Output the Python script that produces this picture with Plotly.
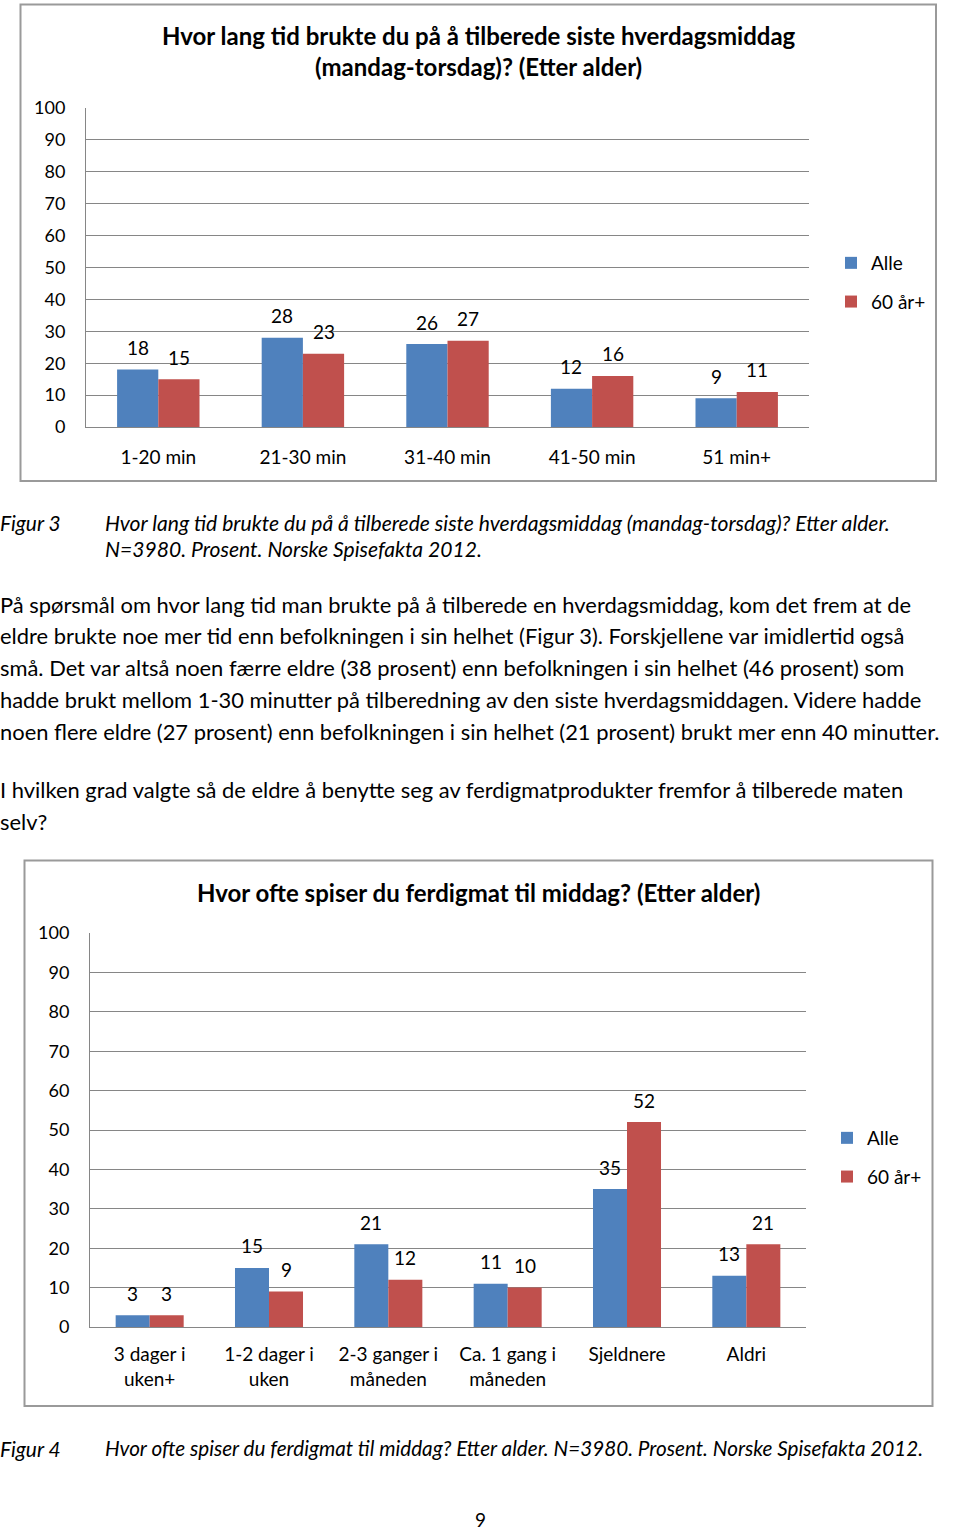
import plotly.graph_objects as go

W, H = 960, 1534
FONT = "Lato"

# ---------------- data ----------------
series_names = ["Alle", "60 år+"]
series_colors = ["#4F81BD", "#C0504D"]

cat1 = ["1-20 min", "21-30 min", "31-40 min", "41-50 min", "51 min+"]
alle1 = [18, 28, 26, 12, 9]
eldre1 = [15, 23, 27, 16, 11]

cat2 = ["3 dager i<br>uken+", "1-2 dager i<br>uken", "2-3 ganger i<br>måneden",
        "Ca. 1 gang i<br>måneden", "Sjeldnere", "Aldri"]
alle2 = [3, 15, 21, 11, 35, 13]
eldre2 = [3, 9, 12, 10, 52, 21]

yticks = [0, 10, 20, 30, 40, 50, 60, 70, 80, 90, 100]

title1 = "Hvor lang tid brukte du på å tilberede siste hverdagsmiddag<br>(mandag-torsdag)? (Etter alder)"
title2 = "Hvor ofte spiser du ferdigmat til middag? (Etter alder)"

caption3_label = "Figur 3"
caption3_lines = ["Hvor lang tid brukte du på å tilberede siste hverdagsmiddag (mandag-torsdag)? Etter alder.",
                  "N=3980. Prosent. Norske Spisefakta 2012."]
caption4_label = "Figur 4"
caption4_lines = ["Hvor ofte spiser du ferdigmat til middag? Etter alder. N=3980. Prosent. Norske Spisefakta 2012."]

body_para1 = [
    "På spørsmål om hvor lang tid man brukte på å tilberede en hverdagsmiddag, kom det frem at de",
    "eldre brukte noe mer tid enn befolkningen i sin helhet (Figur 3). Forskjellene var imidlertid også",
    "små. Det var altså noen færre eldre (38 prosent) enn befolkningen i sin helhet (46 prosent) som",
    "hadde brukt mellom 1-30 minutter på tilberedning av den siste hverdagsmiddagen. Videre hadde",
    "noen flere eldre (27 prosent) enn befolkningen i sin helhet (21 prosent) brukt mer enn 40 minutter.",
]
body_para2 = [
    "I hvilken grad valgte så de eldre å benytte seg av ferdigmatprodukter fremfor å tilberede maten",
    "selv?",
]
page_number = "9"


# ---------------- helpers ----------------
def fx(px):
    return px / W


def fy(py):
    return 1 - py / H


GRID = "#868686"
BARGAP = 0.43

fig = go.Figure()

charts = [
    dict(cats=cat1, vals=[alle1, eldre1], xa="x", ya="y", legend="legend",
         xdom=(86, 809), ydom=(427, 108)),
    dict(cats=cat2, vals=[alle2, eldre2], xa="x2", ya="y2", legend="legend2",
         xdom=(90, 806), ydom=(1327, 933)),
]

annotations = []
for ci, ch in enumerate(charts):
    ncat = len(ch["cats"])
    cat_px = (ch["xdom"][1] - ch["xdom"][0]) / ncat
    bar_px = cat_px * (1 - BARGAP) / 2
    for si, (name, col) in enumerate(zip(series_names, series_colors)):
        fig.add_trace(go.Bar(
            x=ch["cats"], y=ch["vals"][si], name=name,
            marker=dict(color=col, line=dict(width=0)),
            xaxis=ch["xa"], yaxis=ch["ya"],
            legend=ch["legend"], legendgroup=f"{ci}-{si}",
            hoverinfo="skip",
        ))
        shift = (-0.5 if si == 0 else 0.5) * bar_px
        for c, v in zip(ch["cats"], ch["vals"][si]):
            annotations.append(dict(
                x=c, y=v, xref=ch["xa"], yref=ch["ya"], text=str(v),
                showarrow=False, xshift=shift, yshift=22,
                xanchor="center", yanchor="middle",
                font=dict(family=FONT, size=19, color="black"),
            ))

axis_common = dict(showgrid=False, showline=True, linecolor=GRID, linewidth=1,
                   ticks="", tickfont=dict(family=FONT, size=19, color="black"),
                   zeroline=False, fixedrange=True, automargin=False)
yaxis_common = dict(range=[0, 100], tickvals=yticks, showgrid=True, gridcolor=GRID,
                    gridwidth=1, showline=True, linecolor=GRID, linewidth=1,
                    ticks="outside", ticklen=16, tickcolor="rgba(0,0,0,0)",
                    tickfont=dict(family=FONT, size=18, color="black"),
                    zeroline=False, fixedrange=True, automargin=False)

layout = dict(
    width=W, height=H,
    margin=dict(l=0, r=0, t=0, b=0, autoexpand=False),
    paper_bgcolor="white", plot_bgcolor="white",
    barmode="group", bargap=BARGAP, bargroupgap=0,
    font=dict(family=FONT, size=18, color="black"),
    xaxis=dict(domain=[fx(86), fx(809)], anchor="y", ticklabelstandoff=13, **axis_common),
    yaxis=dict(domain=[fy(427), fy(108)], anchor="x", **yaxis_common),
    xaxis2=dict(domain=[fx(90), fx(806)], anchor="y2", ticklabelstandoff=10, **axis_common),
    yaxis2=dict(domain=[fy(1327), fy(933)], anchor="x2", **yaxis_common),
    legend=dict(x=fx(831), y=fy(244), xanchor="left", yanchor="top",
                font=dict(family=FONT, size=19, color="black"),
                tracegroupgap=11, bgcolor="rgba(0,0,0,0)", itemclick=False),
    legend2=dict(x=fx(827), y=fy(1119), xanchor="left", yanchor="top",
                 font=dict(family=FONT, size=19, color="black"),
                 tracegroupgap=11, bgcolor="rgba(0,0,0,0)", itemclick=False),
    showlegend=True,
)
fig.update_layout(**layout)

# chart frames
shapes = [
    dict(type="rect", xref="paper", yref="paper", x0=fx(20.5), x1=fx(936), y0=fy(481), y1=fy(4.5),
         line=dict(color="#9a9a9a", width=2), fillcolor="rgba(0,0,0,0)", layer="below"),
    dict(type="rect", xref="paper", yref="paper", x0=fx(24.5), x1=fx(932.5), y0=fy(1406), y1=fy(860.5),
         line=dict(color="#9a9a9a", width=2), fillcolor="rgba(0,0,0,0)", layer="below"),
]

# chart titles
annotations.append(dict(x=fx(479), y=fy(51), xref="paper", yref="paper", text=f"<b>{title1}</b>",
                        showarrow=False, xanchor="center", yanchor="middle",
                        font=dict(family=FONT, size=24, color="black")))
annotations.append(dict(x=fx(478), y=fy(892), xref="paper", yref="paper", text=f"<b>{title2}</b>",
                        showarrow=False, xanchor="center", yanchor="middle",
                        font=dict(family=FONT, size=24, color="black")))


def text_line(txt, x, y, size=19, italic=False, anchor="left", yanchor="middle"):
    t = f"<i>{txt}</i>" if italic else txt
    annotations.append(dict(x=fx(x), y=fy(y), xref="paper", yref="paper", text=t,
                            showarrow=False, xanchor=anchor, yanchor=yanchor,
                            font=dict(family=FONT, size=size, color="black")))


# captions
text_line(caption3_label, -2, 522, size=20.9, italic=True)
for i, ln in enumerate(caption3_lines):
    text_line(ln, 103, 522 + i * 26, size=21.1, italic=True)
text_line(caption4_label, -2, 1448, size=20.9, italic=True)
for i, ln in enumerate(caption4_lines):
    text_line(ln, 103, 1448 + i * 26, size=20.7, italic=True)

# body text
for i, ln in enumerate(body_para1):
    text_line(ln, -2, 604 + i * 31.8, size=21.9)
for i, ln in enumerate(body_para2):
    text_line(ln, -2, 789 + i * 32, size=21.9)

text_line(page_number, 480, 1533, size=19, anchor="center", yanchor="bottom")

fig.update_layout(annotations=annotations, shapes=shapes)
fig.write_html("out.html", config={"displayModeBar": False},
               post_script="document.body.style.margin='0';")
